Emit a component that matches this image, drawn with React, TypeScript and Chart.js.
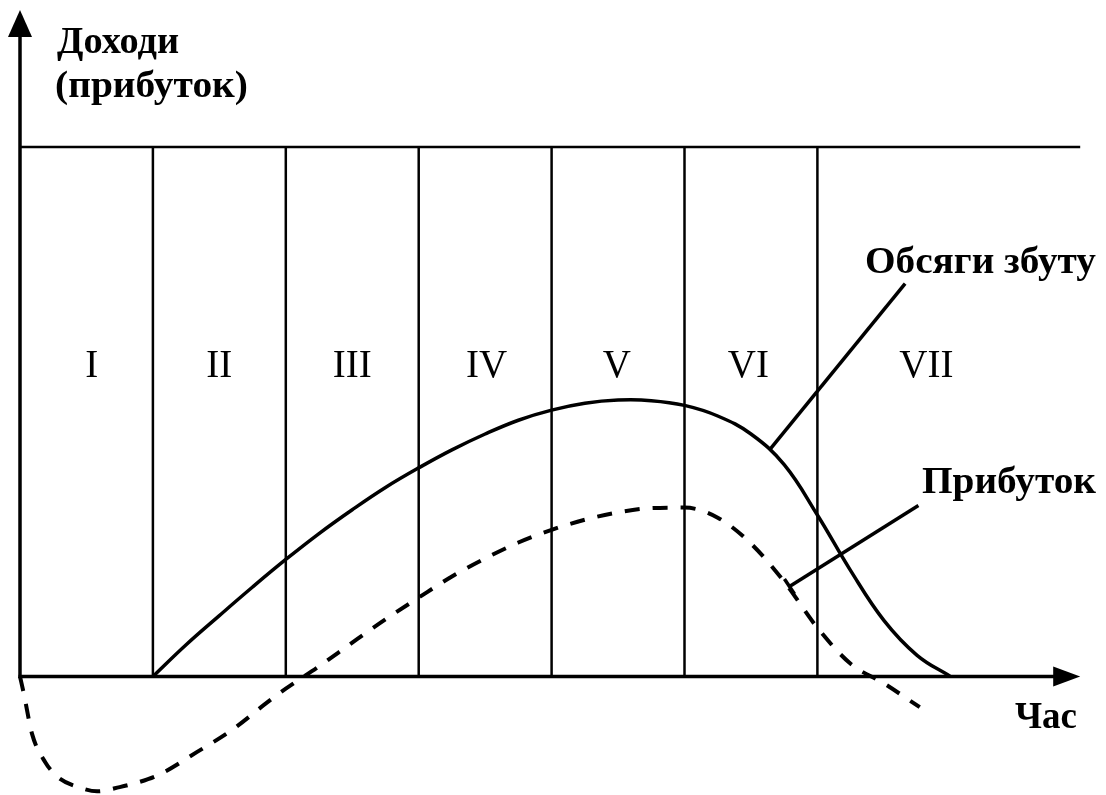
import React, { useEffect, useRef } from "react";
import { Chart, registerables } from "chart.js";

Chart.register(...registerables);

// Stage boundaries (in stage units along the time axis) and stage labels
const STAGE_BOUNDS = [1, 2, 3, 4, 5, 6];
const STAGES = ["I", "II", "III", "IV", "V", "VI", "VII"];
const STAGE_LABEL_X = [0.54, 1.5, 2.5, 3.51, 4.49, 5.48, 6.82];

// Sales volume curve ("Обсяги збуту")
const SALES_X = [1.0, 1.25, 1.5, 1.75, 2.0, 2.25, 2.5, 2.75, 3.0, 3.25, 3.5, 3.75, 4.0, 4.25, 4.5, 4.75, 5.0, 5.25, 5.5, 5.75, 6.0, 6.25, 6.5, 6.75, 7.0];
const SALES_Y = [0, 6.0, 11.5, 16.9, 22.1, 27.0, 31.5, 35.7, 39.4, 42.8, 45.8, 48.4, 50.3, 51.6, 52.2, 52.1, 51.2, 49.2, 45.8, 40.0, 30.5, 20.0, 10.6, 4.0, 0];

// Profit curve ("Прибуток")
const PROFIT_X = [0, 0.03, 0.09, 0.19, 0.29, 0.44, 0.58, 0.75, 0.89, 1.05, 1.33, 1.6, 1.86, 2.0, 2.25, 2.5, 2.75, 3.0, 3.25, 3.5, 3.75, 4.0, 4.25, 4.5, 4.75, 5.0, 5.25, 5.5, 5.75, 6.0, 6.25, 6.5, 6.77];
const PROFIT_Y = [0, -3.4, -10.8, -16.2, -19.1, -20.9, -21.7, -20.9, -20.0, -18.5, -14.3, -10.0, -4.9, -2.3, 1.9, 6.4, 10.8, 14.9, 18.9, 22.3, 25.3, 27.7, 29.6, 31.0, 31.8, 31.9, 30.0, 25.1, 17.9, 9.2, 2.4, -1.3, -5.8];

// Leader lines for the curve captions
const SALES_LEADER_X = [5.64, 6.66];
const SALES_LEADER_Y = [42.8, 74.2];
const PROFIT_LEADER_X = [5.79, 6.76];
const PROFIT_LEADER_Y = [17.0, 32.3];

// Axis extents
const X_MAX = 8;
const Y_TOP_LINE = 100;
const Y_MIN = -22.2;
const Y_MAX = 124;

const toPts = (xs: number[], ys: number[]) => xs.map((x, i) => ({ x, y: ys[i] }));

const SERIF = '"Liberation Serif", "Times New Roman", serif';

function drawFit(ctx: CanvasRenderingContext2D, text: string, x: number, y: number, w: number) {
  const m = ctx.measureText(text).width;
  ctx.save();
  ctx.translate(x, y);
  ctx.scale(w / m, 1);
  ctx.fillText(text, 0, 0);
  ctx.restore();
}

const decorPlugin = {
  id: "decor",
  afterDraw(chart: any) {
    const ctx = chart.ctx as CanvasRenderingContext2D;
    const xs = chart.scales.x;
    const ys = chart.scales.y;
    const px = (v: number) => xs.getPixelForValue(v);
    const py = (v: number) => ys.getPixelForValue(v);
    ctx.save();
    ctx.strokeStyle = "#000";
    ctx.fillStyle = "#000";
    ctx.lineCap = "butt";

    // stage boundaries
    ctx.lineWidth = 2.5;
    STAGE_BOUNDS.forEach((b) => {
      ctx.beginPath();
      ctx.moveTo(px(b), py(0));
      ctx.lineTo(px(b), py(Y_TOP_LINE));
      ctx.stroke();
    });
    // top line
    ctx.beginPath();
    ctx.moveTo(px(0), py(Y_TOP_LINE));
    ctx.lineTo(px(X_MAX) - 3, py(Y_TOP_LINE));
    ctx.stroke();

    // axes
    ctx.lineWidth = 3.5;
    const x0 = px(0);
    const y0 = py(0);
    const xEnd = px(X_MAX) - 3;
    const yEnd = 10;
    ctx.beginPath();
    ctx.moveTo(x0, y0 + 1.5);
    ctx.lineTo(x0, yEnd + 20);
    ctx.stroke();
    ctx.beginPath();
    ctx.moveTo(x0 - 1.5, y0);
    ctx.lineTo(xEnd - 20, y0);
    ctx.stroke();
    // arrow heads
    ctx.beginPath();
    ctx.moveTo(x0, yEnd);
    ctx.lineTo(x0 - 12, yEnd + 27);
    ctx.lineTo(x0 + 12, yEnd + 27);
    ctx.closePath();
    ctx.fill();
    ctx.beginPath();
    ctx.moveTo(xEnd, y0);
    ctx.lineTo(xEnd - 27, y0 - 10);
    ctx.lineTo(xEnd - 27, y0 + 10);
    ctx.closePath();
    ctx.fill();

    // stage numerals
    ctx.font = `39px ${SERIF}`;
    ctx.textAlign = "center";
    ctx.textBaseline = "alphabetic";
    STAGES.forEach((s, i) => {
      ctx.fillText(s, px(STAGE_LABEL_X[i]), 377);
    });

    // captions
    ctx.font = `bold 38px ${SERIF}`;
    ctx.textAlign = "left";
    drawFit(ctx, "Доходи", 57, 53, 122);
    drawFit(ctx, "(прибуток)", 55, 97, 193);
    drawFit(ctx, "Обсяги збуту", 865, 273, 231);
    drawFit(ctx, "Прибуток", 922, 493, 174);
    drawFit(ctx, "Час", 1015, 728, 62);
    ctx.restore();
  },
};

export default function App() {
  const ref = useRef<HTMLCanvasElement | null>(null);
  useEffect(() => {
    if (!ref.current) return;
    const chart = new Chart(ref.current, {
      type: "line",
      data: {
        datasets: [
          {
            label: "Обсяги збуту",
            data: toPts(SALES_X, SALES_Y),
            borderColor: "#000",
            borderWidth: 3.5,
            pointRadius: 0,
            tension: 0.4,
            fill: false,
          },
          {
            label: "Прибуток",
            data: toPts(PROFIT_X, PROFIT_Y),
            borderColor: "#000",
            borderWidth: 4,
            borderDash: [15, 13],
            pointRadius: 0,
            cubicInterpolationMode: "monotone",
            fill: false,
          },
          {
            label: "sales-leader",
            data: toPts(SALES_LEADER_X, SALES_LEADER_Y),
            borderColor: "#000",
            borderWidth: 3.5,
            pointRadius: 0,
            tension: 0,
          },
          {
            label: "profit-leader",
            data: toPts(PROFIT_LEADER_X, PROFIT_LEADER_Y),
            borderColor: "#000",
            borderWidth: 3.5,
            tension: 0,
            pointStyle: "line",
            pointRotation: 56,
            pointRadius: [9, 0],
            pointBorderWidth: 3.5,
            pointBorderColor: "#000",
            pointBackgroundColor: "#000",
          },
        ],
      },
      options: {
        animation: false,
        responsive: false,
        maintainAspectRatio: false,
        devicePixelRatio: 1,
        clip: false,
        layout: { autoPadding: false, padding: { left: 20, right: 22.8, top: 20, bottom: 1 } },
        plugins: { legend: { display: false }, title: { display: false }, tooltip: { enabled: false } },
        scales: {
          x: { type: "linear", min: 0, max: X_MAX, display: false },
          y: { type: "linear", min: Y_MIN, max: Y_MAX, display: false },
        },
      } as any,
      plugins: [decorPlugin],
    });
    return () => chart.destroy();
  }, []);
  return (
    <div style={{ position: "absolute", left: 0, top: 0, width: 1106, height: 795, background: "#fff" }}>
      <canvas ref={ref} width={1106} height={795} style={{ display: "block", width: 1106, height: 795 }} />
    </div>
  );
}
